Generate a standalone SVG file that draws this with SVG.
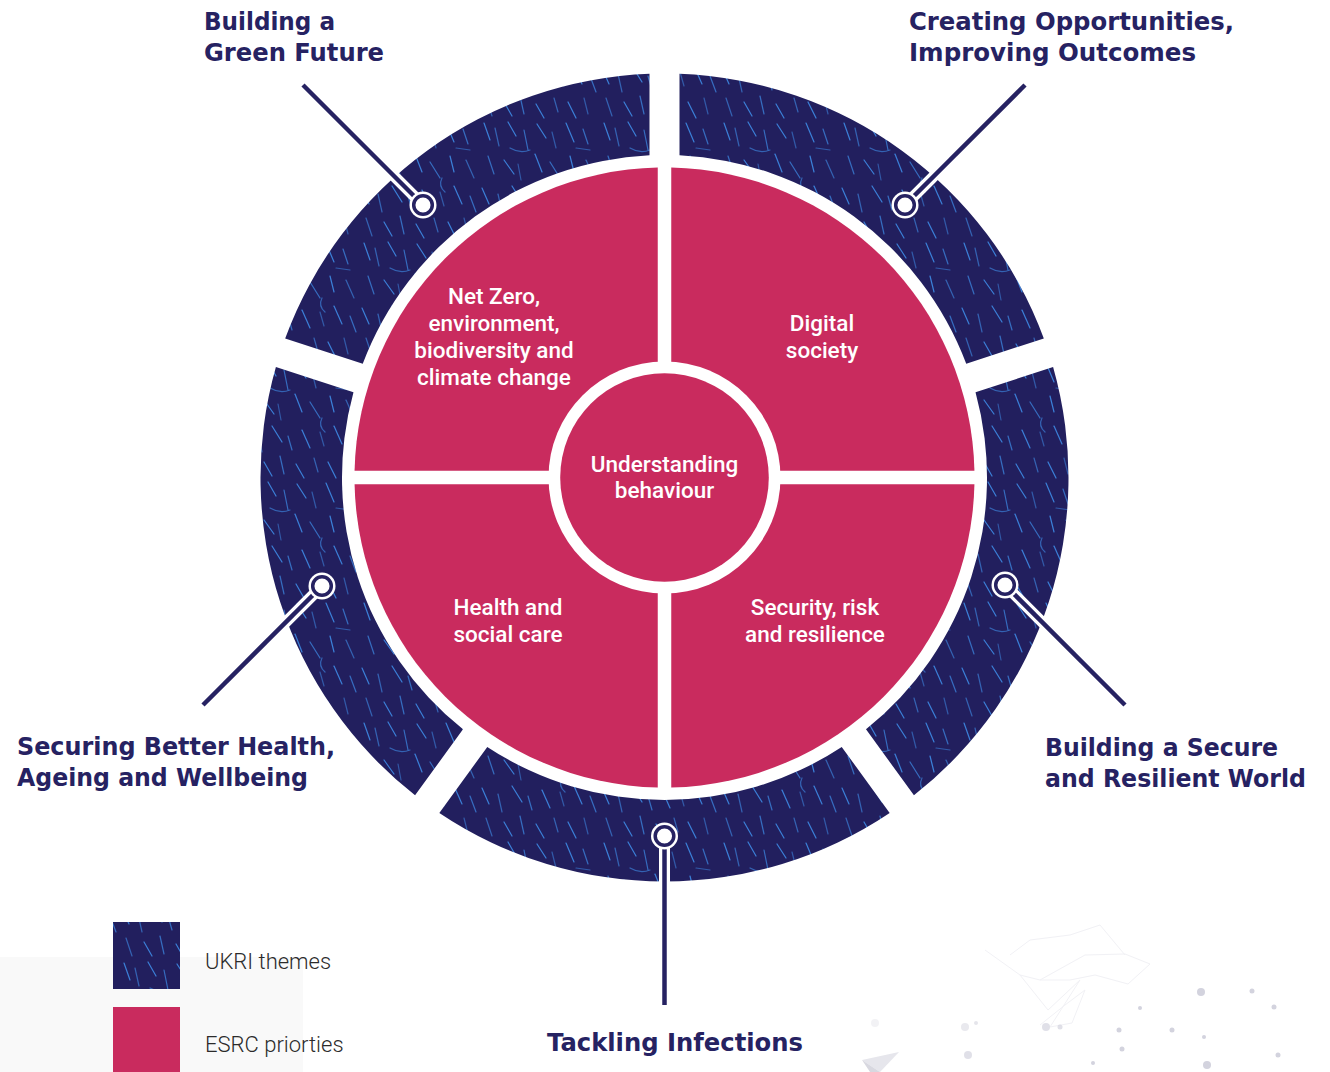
<svg xmlns="http://www.w3.org/2000/svg" width="1330" height="1072" viewBox="0 0 1330 1072">
<defs>
<pattern id="tex" patternUnits="userSpaceOnUse" width="120" height="120">
<rect width="120" height="120" fill="#221f5e"/>
<g stroke="#3a7fd8" stroke-width="1.2" stroke-linecap="round" fill="none">
<line x1="4" y1="3" x2="10" y2="20"/>
<line x1="15" y1="8" x2="19" y2="26" opacity="0.7"/>
<line x1="28" y1="2" x2="36" y2="16"/>
<line x1="44" y1="10" x2="48" y2="30" opacity="0.8"/>
<line x1="57" y1="4" x2="66" y2="18"/>
<line x1="72" y1="12" x2="76" y2="28" opacity="0.6"/>
<line x1="86" y1="3" x2="94" y2="22"/>
<line x1="103" y1="9" x2="108" y2="24" opacity="0.8"/>
<line x1="8" y1="36" x2="14" y2="54" opacity="0.8"/>
<line x1="24" y1="40" x2="34" y2="54"/>
<line x1="38" y1="44" x2="41" y2="60" opacity="0.6"/>
<line x1="55" y1="34" x2="62" y2="52"/>
<line x1="70" y1="42" x2="80" y2="58" opacity="0.8"/>
<line x1="90" y1="36" x2="94" y2="52"/>
<line x1="106" y1="40" x2="114" y2="58" opacity="0.7"/>
<line x1="2" y1="68" x2="9" y2="84"/>
<line x1="18" y1="74" x2="22" y2="92" opacity="0.7"/>
<line x1="32" y1="66" x2="42" y2="82"/>
<line x1="48" y1="76" x2="52" y2="90" opacity="0.8"/>
<line x1="62" y1="70" x2="70" y2="88"/>
<line x1="80" y1="72" x2="84" y2="86" opacity="0.6"/>
<line x1="94" y1="66" x2="102" y2="84"/>
<line x1="110" y1="76" x2="116" y2="92" opacity="0.8"/>
<line x1="6" y1="98" x2="12" y2="116" opacity="0.7"/>
<line x1="24" y1="102" x2="32" y2="116"/>
<line x1="40" y1="96" x2="44" y2="114" opacity="0.8"/>
<line x1="56" y1="104" x2="64" y2="118"/>
<line x1="74" y1="98" x2="78" y2="112" opacity="0.7"/>
<line x1="88" y1="102" x2="96" y2="118"/>
<line x1="104" y1="98" x2="108" y2="114" opacity="0.6"/>
<path d="M30 28 q10 6 20 2" opacity="0.7"/>
<path d="M82 58 q-4 8 3 14" opacity="0.7"/>
<line x1="96" y1="28" x2="110" y2="30" opacity="0.6"/>
</g>
</pattern>
<style>
.seg{fill:url(#tex)}
.pink{fill:#c92b5e}
.title{font-family:"DejaVu Sans","Liberation Sans",sans-serif;font-weight:700;font-size:24px;fill:#262262}
.inner{font-family:Roboto,"Liberation Sans",sans-serif;font-weight:500;font-size:22.5px;fill:#ffffff;text-anchor:middle}
.leg{font-family:Roboto,"Liberation Sans",sans-serif;font-weight:300;font-size:22px;fill:#2b2b2b}
.lead{stroke:#262262;stroke-width:4.5;fill:none}
.leadw{stroke:#ffffff;stroke-width:11;fill:none}
.dot{fill:#d3d3de}
.net{stroke:#f1f1f5;stroke-width:1;fill:none}
</style>
</defs>
<rect width="1330" height="1072" fill="#ffffff"/>
<rect x="0" y="957" width="303" height="115" fill="#f9f9f9"/>
<g id="decor">
<g class="net">
<path d="M985 950 L1020 975 L1040 980 L1085 955 L1125 954 L1150 964 L1128 984 L1095 975 L1070 980 L1040 980"/>
<path d="M1020 975 L1048 1010 L1080 980 L1050 1027 L1072 1023 L1085 990 L1065 1005 L1040 1025"/>
<path d="M1010 955 L1030 940 L1070 935 L1100 925 L1125 955"/>
</g>
<circle class="dot" cx="1201" cy="992" r="4"/>
<circle class="dot" cx="1252" cy="991" r="2.5"/>
<circle class="dot" cx="1274" cy="1007" r="2.5"/>
<circle class="dot" cx="1140" cy="1008" r="2"/>
<circle class="dot" cx="1119" cy="1030" r="2.5"/>
<circle class="dot" cx="1172" cy="1030" r="2.5"/>
<circle class="dot" cx="1204" cy="1037" r="2"/>
<circle class="dot" cx="1122" cy="1049" r="2.5"/>
<circle class="dot" cx="1278" cy="1055" r="2.5"/>
<circle class="dot" cx="1093" cy="1063" r="2"/>
<circle class="dot" cx="1207" cy="1065" r="4"/>
<circle class="dot" cx="968" cy="1055" r="4" opacity="0.7"/>
<circle class="dot" cx="965" cy="1027" r="4" opacity="0.5"/>
<circle class="dot" cx="976" cy="1023" r="2" opacity="0.6"/>
<circle class="dot" cx="1046" cy="1027" r="4" opacity="0.7"/>
<circle class="dot" cx="1060" cy="1027" r="2.5" opacity="0.7"/>
<circle class="dot" cx="875" cy="1023" r="4" opacity="0.3"/>
<polygon points="862,1060 899,1052 880,1072" fill="#e6e6ec"/>
<polygon points="862,1060 880,1072 870,1072" fill="#d8d8e0"/>
</g>
<g id="theme-creating-opportunities">
<path class="seg" d="M679.5 73.78 A404 404 0 0 1 1043.83 338.48 L966.25 363.68 A322.5 322.5 0 0 0 679.5 155.35 Z"/>
<text class="title" x="909" y="30" textLength="325" lengthAdjust="spacingAndGlyphs">Creating Opportunities,</text>
<text class="title" x="909" y="61" textLength="287" lengthAdjust="spacingAndGlyphs">Improving Outcomes</text>
</g>
<g id="theme-secure-resilient">
<path class="seg" d="M1053.10 367.01 A404 404 0 0 1 913.94 795.30 L865.99 729.31 A322.5 322.5 0 0 0 975.52 392.21 Z"/>
<text class="title" x="1045" y="756" textLength="233" lengthAdjust="spacingAndGlyphs">Building a Secure</text>
<text class="title" x="1045" y="787" textLength="261" lengthAdjust="spacingAndGlyphs">and Resilient World</text>
</g>
<g id="theme-tackling-infections">
<path class="seg" d="M889.67 812.94 A404 404 0 0 1 439.33 812.94 L487.28 746.94 A322.5 322.5 0 0 0 841.72 746.94 Z"/>
<text class="title" x="547" y="1051" textLength="256" lengthAdjust="spacingAndGlyphs">Tackling Infections</text>
</g>
<g id="theme-better-health">
<path class="seg" d="M415.06 795.30 A404 404 0 0 1 275.90 367.01 L353.48 392.21 A322.5 322.5 0 0 0 463.01 729.31 Z"/>
<text class="title" x="17" y="755" textLength="318" lengthAdjust="spacingAndGlyphs">Securing Better Health,</text>
<text class="title" x="17" y="786" textLength="291" lengthAdjust="spacingAndGlyphs">Ageing and Wellbeing</text>
</g>
<g id="theme-green-future">
<path class="seg" d="M285.17 338.48 A404 404 0 0 1 649.5 73.78 L649.5 155.35 A322.5 322.5 0 0 0 362.75 363.68 Z"/>
<text class="title" x="204" y="30" textLength="131" lengthAdjust="spacingAndGlyphs">Building a</text>
<text class="title" x="204" y="61" textLength="180" lengthAdjust="spacingAndGlyphs">Green Future</text>
</g>
<g id="priority-net-zero">
<path class="pink" d="M657.75 470.75 L657.75 167.57 A310 310 0 0 0 354.57 470.75 Z"/>
<text class="inner" x="494" y="304">Net Zero,</text>
<text class="inner" x="494" y="331">environment,</text>
<text class="inner" x="494" y="358">biodiversity and</text>
<text class="inner" x="494" y="385">climate change</text>
</g>
<g id="priority-digital-society">
<path class="pink" d="M671.25 470.75 L974.43 470.75 A310 310 0 0 0 671.25 167.57 Z"/>
<text class="inner" x="822" y="331">Digital</text>
<text class="inner" x="822" y="358">society</text>
</g>
<g id="priority-security">
<path class="pink" d="M671.25 484.25 L671.25 787.43 A310 310 0 0 0 974.43 484.25 Z"/>
<text class="inner" x="815" y="615">Security, risk</text>
<text class="inner" x="815" y="642">and resilience</text>
</g>
<g id="priority-health">
<path class="pink" d="M657.75 484.25 L354.57 484.25 A310 310 0 0 0 657.75 787.43 Z"/>
<text class="inner" x="508" y="615">Health and</text>
<text class="inner" x="508" y="642">social care</text>
</g>
<g id="center-understanding-behaviour">
<circle cx="664.5" cy="477.5" r="116" fill="#ffffff"/>
<circle class="pink" cx="664.5" cy="477.5" r="104.3"/>
<text class="inner" x="664.5" y="472">Understanding</text>
<text class="inner" x="664.5" y="498">behaviour</text>
</g>
<g id="connectors">
<g class="leadw">
<line x1="303" y1="85" x2="423" y2="205"/>
<line x1="1025" y1="85" x2="905" y2="205"/>
<line x1="1125" y1="705" x2="1005" y2="585"/>
<line x1="203" y1="705" x2="322" y2="586"/>
<line x1="664.5" y1="1005" x2="664.5" y2="836"/>
</g>
<g class="lead">
<line x1="303" y1="85" x2="423" y2="205"/>
<line x1="1025" y1="85" x2="905" y2="205"/>
<line x1="1125" y1="705" x2="1005" y2="585"/>
<line x1="203" y1="705" x2="322" y2="586"/>
<line x1="664.5" y1="1005" x2="664.5" y2="836"/>
</g>
<g fill="#ffffff">
<circle cx="423" cy="205" r="13.5"/>
<circle cx="905" cy="205" r="13.5"/>
<circle cx="1005" cy="585" r="13.5"/>
<circle cx="322" cy="586" r="13.5"/>
<circle cx="664.5" cy="836" r="13.5"/>
</g>
<g fill="#ffffff" stroke="#262262" stroke-width="3.5">
<circle cx="423" cy="205" r="9.3"/>
<circle cx="905" cy="205" r="9.3"/>
<circle cx="1005" cy="585" r="9.3"/>
<circle cx="322" cy="586" r="9.3"/>
<circle cx="664.5" cy="836" r="9.3"/>
</g>
</g>
<g id="legend">
<rect x="113" y="922" width="67" height="67" fill="url(#tex)"/>
<rect x="113" y="1007" width="67" height="65" fill="#c92b5e"/>
<text class="leg" x="205" y="969">UKRI themes</text>
<text class="leg" x="205" y="1052">ESRC priorties</text>
</g>
</svg>
